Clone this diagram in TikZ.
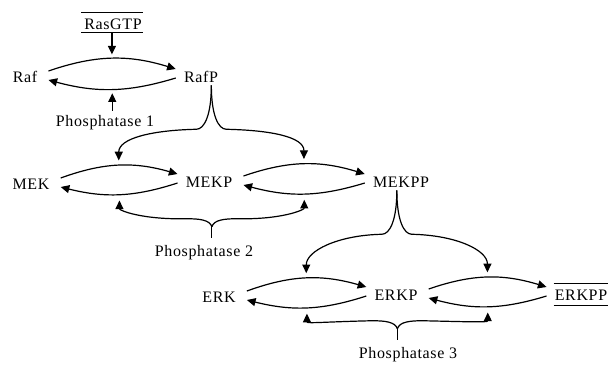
\documentclass[tikz,border=0pt]{standalone}
\usepackage{fontspec}
\setmainfont{Liberation Serif}[LetterSpace=4.0]
\usetikzlibrary{arrows.meta,calc}

% reversible reaction: forward arc on top, backward arc below,
% with named midpoints #3t (top) and #3b (bottom)
\newcommand\exchange[3]{%
  \draw[arr] ([shift={(11,-6)}]#1.east) to[bend left=18]
    coordinate[pos=.5] (#3t) ([shift={(-8,-8)}]#2.west);
  \draw[arr] ([shift={(-8,1)}]#2.west) to[bend left=16]
    coordinate[pos=.5] (#3b) ([shift={(11,3)}]#1.east);
}
% kinase fork: from below a node down to two forward arcs
\newcommand\kinasefork[3]{%
  \coordinate (#1-m) at ($(#2t)!.5!(#3t)$);
  \coordinate (#1-k) at ($(#1-m |- #1.south)+(0,3)$);
  \coordinate (#1-l) at ($(#1-k)+(-15,44)$);
  \coordinate (#1-r) at ($(#1-k)+(15,44)$);
  \draw[arr] (#1-k) .. controls +(0,30) and +(8,0) .. (#1-l)
    .. controls +(-45,1) and +(0,-22) .. ([shift={(0,-5)}]#2t);
  \draw[arr] (#1-k) .. controls +(0,30) and +(-8,0) .. (#1-r)
    .. controls +(45,1) and +(0,-22) .. ([shift={(0,-5)}]#3t);
}
% phosphatase fork: from above a label up to two backward arcs
\newcommand\phosfork[3]{%
  \coordinate (#1-m) at ($(#2b)!.5!(#3b)$);
  \coordinate (#1-s) at ($(#1-m |- #1.north)+(0,-8)$);
  \coordinate (#1-k) at ($(#1-s)+(0,-11)$);
  \coordinate (#1-l) at ($(#1-k)+(-25,-8)$);
  \coordinate (#1-r) at ($(#1-k)+(25,-8)$);
  \draw[link] (#1-s) -- (#1-k);
  \draw[arr] (#1-k) .. controls +(-2,-7) and +(12,0) .. (#1-l)
    .. controls +(-45,1) and +(0,10) .. ([shift={(0,6)}]#2b);
  \draw[arr] (#1-k) .. controls +(2,-7) and +(-12,0) .. (#1-r)
    .. controls +(45,1) and +(0,10) .. ([shift={(0,6)}]#3b);
}

\begin{document}
\begin{tikzpicture}[x=0.75pt,y=-0.75pt,
  lbl/.style={inner xsep=0pt,inner ysep=0pt,text height=7.5pt,text depth=0pt,
    font=\fontsize{12}{14}\selectfont,anchor=base},
  link/.style={line width=0.9pt},
  arr/.style={link,-{Triangle[length=6.5pt,width=6pt]}},
  bar/.style={line width=0.8pt}]
\useasboundingbox (0,0) rectangle (608,368);

% species and enzymes
\node[lbl] (ras)   at (113,29)  {RasGTP};
\node[lbl] (raf)   at (25,82)   {Raf};
\node[lbl] (rafp)  at (201,82)  {RafP};
\node[lbl] (p1)    at (105,126) {Phosphatase 1};
\node[lbl] (mek)   at (31,189)  {MEK};
\node[lbl] (mekp)  at (209,187) {MEKP};
\node[lbl] (mekpp) at (401,187) {MEKPP};
\node[lbl] (p2)    at (204,256) {Phosphatase 2};
\node[lbl] (erk)   at (219,302) {ERK};
\node[lbl] (erkp)  at (396,300) {ERKP};
\node[lbl] (erkpp) at (581,300) {ERKPP};
\node[lbl] (p3)    at (408,358) {Phosphatase 3};

% bars over and under the input and output species
\draw[bar] ([shift={(-3,-6)}]ras.north west) -- ([shift={(1,-6)}]ras.north east);
\draw[bar] ([shift={(-3,3)}]ras.south west) -- ([shift={(1,3)}]ras.south east);
\draw[bar] ([shift={(-1,-6)}]erkpp.north west) -- ([shift={(1,-6)}]erkpp.north east);
\draw[bar] ([shift={(-1,5)}]erkpp.south west) -- ([shift={(1,5)}]erkpp.south east);

% reversible phosphorylation steps
\exchange{raf}{rafp}{r1}
\exchange{mek}{mekp}{r2}
\exchange{mekp}{mekpp}{r3}
\exchange{erk}{erkp}{r4}
\exchange{erkp}{erkpp}{r5}

% first tier: RasGTP and Phosphatase 1
\draw[arr] ([shift={(0,3)}]r1t |- ras.south) -- ([shift={(0,-4)}]r1t);
\draw[arr] ([shift={(0,-5)}]r1b |- p1.north) -- ([shift={(0,4)}]r1b);

% kinases acting on the next tier
\kinasefork{rafp}{r2}{r3}
\kinasefork{mekpp}{r4}{r5}

% phosphatases
\phosfork{p2}{r2}{r3}
\phosfork{p3}{r4}{r5}
\end{tikzpicture}
\end{document}
